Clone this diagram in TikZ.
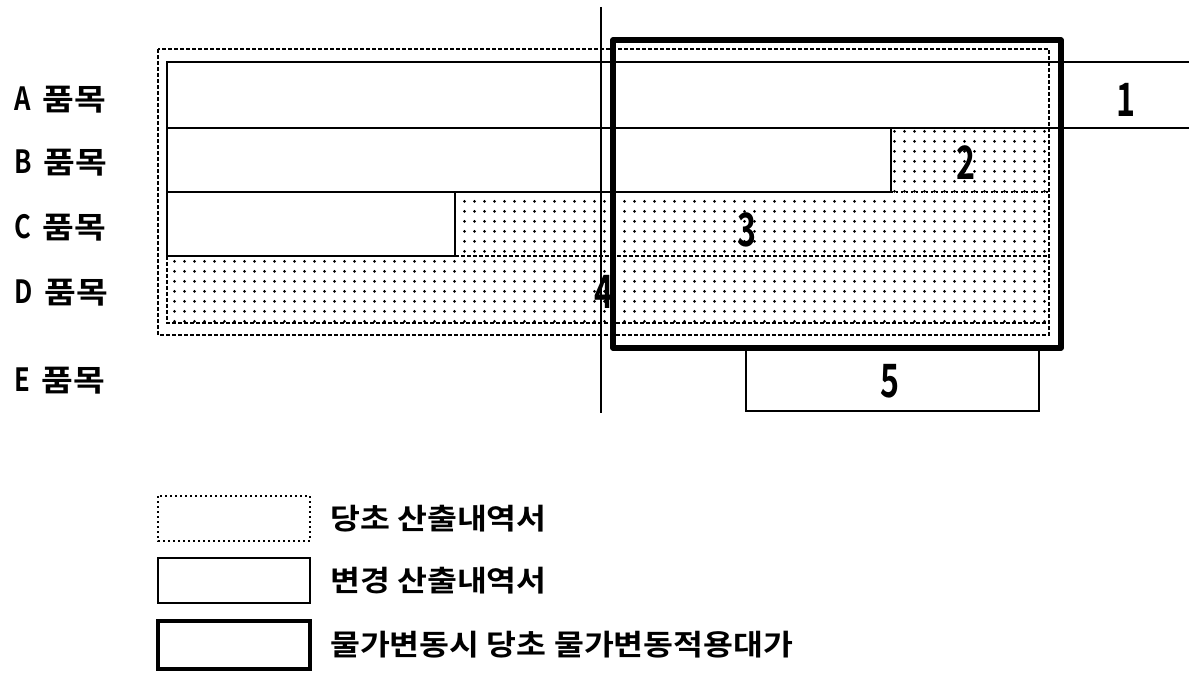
\documentclass[tikz,border=0pt]{standalone}
\usepackage{fontspec}
\usepackage{graphicx}
\setmainfont{Noto Sans CJK KR}[BoldFont={Noto Sans CJK KR Bold}]
\usetikzlibrary{patterns}
\pgfdeclarepatternformonly{bigdots}{\pgfqpoint{0pt}{0pt}}{\pgfqpoint{10pt}{10pt}}{\pgfqpoint{10pt}{10pt}}{%
  \pgfpathcircle{\pgfqpoint{5pt}{5pt}}{1.6pt}\pgfusepath{fill}}
\tikzset{
  chg/.style={line width=2.6pt},
  orig/.style={line width=2.3pt, dash pattern=on 4pt off 2pt},
  origdot/.style={line width=2.3pt, dash pattern=on 2pt off 3pt},
  adj/.style={line width=5.5pt, line join=round},
  dotfill/.style={pattern=bigdots, pattern color=black},
  rowlab/.style={anchor=west, inner sep=0pt, font=\fontsize{30}{30}\selectfont\bfseries},
  num/.style={inner sep=0pt, font=\fontsize{46}{46}\selectfont\bfseries},
  legtxt/.style={anchor=west, inner sep=0pt, font=\fontsize{29}{29}\selectfont\bfseries},
}
\newcommand{\wide}[1]{\scalebox{1.15}[1]{#1}}
\newcommand{\slim}[1]{\scalebox{0.7}[1]{#1}}
\newcommand{\rowletter}[1]{\scalebox{0.8}[1]{\fontsize{32}{32}\selectfont #1}\hspace{12pt}}
\begin{document}
\begin{tikzpicture}[x=1pt,y=-1pt]
\useasboundingbox[fill=white] (0,0) rectangle (1189,676);
% dotted fills (original estimate parts not in change)
\fill[dotfill] (891,128) rectangle (1049,192);
\fill[dotfill] (455,192) rectangle (1049,256);
\fill[dotfill] (167,256) rectangle (1049,323);
% original estimate outline
\draw[orig] (158,49) rectangle (1049,335);
\draw[origdot] (891,192) -- (1049,192);
\draw[orig] (455,256) -- (1049,256);
\draw[orig] (167,256) -- (167,323) -- (1049,323);
% change estimate
\draw[chg] (1189,62) -- (167,62) -- (167,128) -- (1189,128);
\draw[chg] (167,128) rectangle (891,192);
\draw[chg] (167,192) rectangle (455,256);
\draw[chg] (746,348) rectangle (1039,411);
% vertical reference line
\draw[line width=1.6pt] (601,7) -- (601,413);
% price-adjusted contract amount
\draw[adj] (613,40) rectangle (1061,348);
% numbers
\node[num] (n1) at (1126,100) {\slim{1}};
\node[num] (n2) at (966,163) {\slim{2}};
\node[num] (n3) at (747,230) {\slim{3}};
\node[num] (n4) at (604,292) {\slim{4}};
\node[num] (n5) at (890,381) {\slim{5}};
% row labels
\node[rowlab] (la) at (14,100) {\rowletter{A}\wide{품목}};
\node[rowlab] (lb) at (14,163) {\rowletter{B}\wide{품목}};
\node[rowlab] (lc) at (14,228) {\rowletter{C}\wide{품목}};
\node[rowlab] (ld) at (14,293) {\rowletter{D}\wide{품목}};
\node[rowlab] (le) at (14,381) {\rowletter{E}\wide{품목}};
% legend
\draw[origdot] (158,496) rectangle (310,541);
\draw[chg] (158,558) rectangle (310,603);
\draw[line width=3.4pt] (158,621) rectangle (310,669);
\node[legtxt] (g1) at (330,519) {\scalebox{1.12}[1]{당초 산출내역서}};
\node[legtxt] (g2) at (330,581) {\scalebox{1.12}[1]{변경 산출내역서}};
\node[legtxt] (g3) at (330,645) {\scalebox{1.12}[1]{물가변동시 당초 물가변동적용대가}};
\end{tikzpicture}
\end{document}
